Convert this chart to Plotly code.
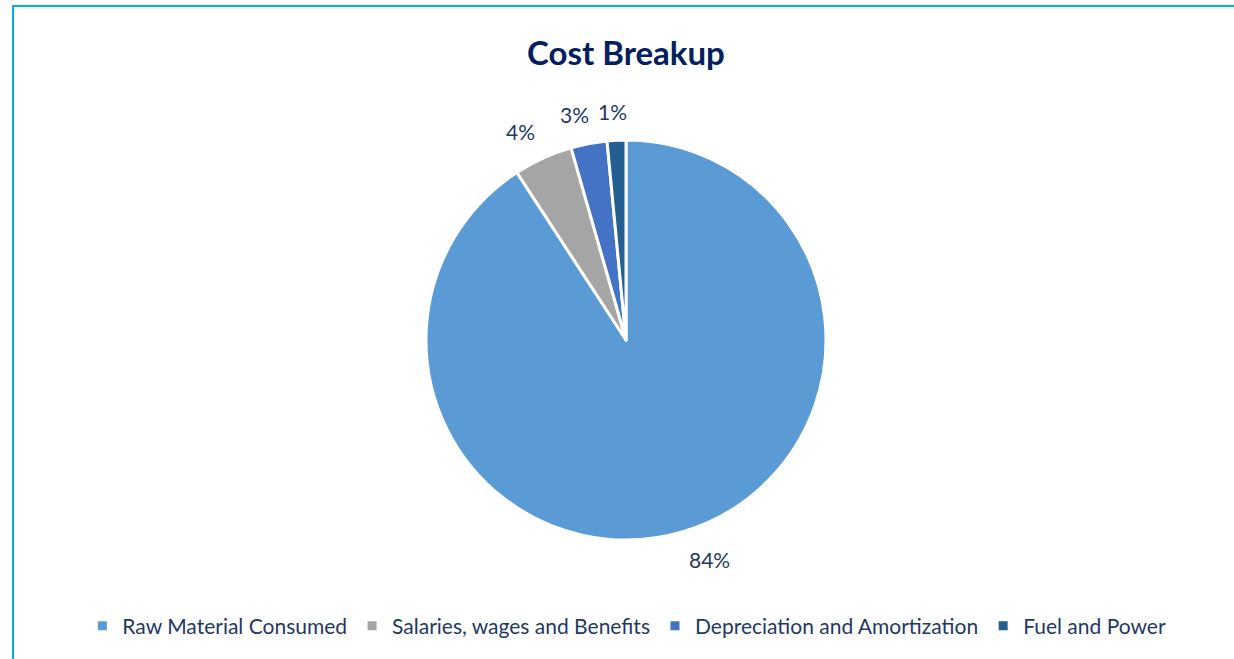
import math
import plotly.graph_objects as go

categories = ["Raw Material Consumed", "Salaries, wages and Benefits",
              "Depreciation and Amortization", "Fuel and Power"]
values = [84.0, 4.4, 2.7, 1.4]
colors = ["#5B9BD5", "#A5A5A5", "#4472C4", "#255E91"]

W, H = 1234, 659
cx, cy, r = 626, 340, 200
text_color = "#1F3864"
font_family = "Lato, 'Open Sans', sans-serif"
label_size = 21

fig = go.Figure(go.Pie(
    labels=categories,
    values=values,
    sort=False,
    direction="clockwise",
    rotation=0,
    marker=dict(colors=colors, line=dict(color="white", width=3)),
    textinfo="none",
    hoverinfo="label+value",
    domain=dict(x=[(cx - r) / W, (cx + r) / W], y=[1 - (cy + r) / H, 1 - (cy - r) / H]),
))

# data labels placed just outside each slice, along its mid angle (derived from the values)
annotations = []
total = sum(values)
cum = 0.0
for v in values:
    mid = (cum + v / 2) / total * 2 * math.pi  # clockwise from 12 o'clock
    cum += v
    s, c = math.sin(mid), math.cos(mid)
    txt = f"{v:.0f}%"
    w = 12 * len(txt) + 6
    h = 22
    D = 218
    px = cx + D * s + math.copysign(1, s) * w / 2 * min(1, abs(s) * 4)
    py = cy - D * c - c * h / 2
    annotations.append(dict(text=txt, x=px / W, y=1 - py / H, xref="paper", yref="paper",
                            showarrow=False, xanchor="center", yanchor="middle",
                            font=dict(size=label_size, color=text_color, family=font_family)))

annotations.append(dict(text="<b>Cost Breakup</b>", x=cx / W, y=1 - 52 / H, xref="paper", yref="paper",
                        showarrow=False, xanchor="center", yanchor="middle",
                        font=dict(size=33, color="#002060", family=font_family)))

fig.update_layout(
    width=W, height=H,
    margin=dict(l=0, r=0, t=0, b=0),
    paper_bgcolor="white",
    showlegend=True,
    legend=dict(orientation="h", x=0.508, xanchor="center", y=1 - 626 / H, yanchor="middle",
                font=dict(size=21, color=text_color, family=font_family),
                traceorder="normal", itemwidth=30),
    annotations=annotations,
    shapes=[dict(type="rect", xref="paper", yref="paper", x0=13 / W, x1=1.02, y0=-0.02, y1=1 - 6 / H,
                 line=dict(color="#00B0F0", width=2), fillcolor="rgba(0,0,0,0)")],
)

fig.write_html("out.html")
